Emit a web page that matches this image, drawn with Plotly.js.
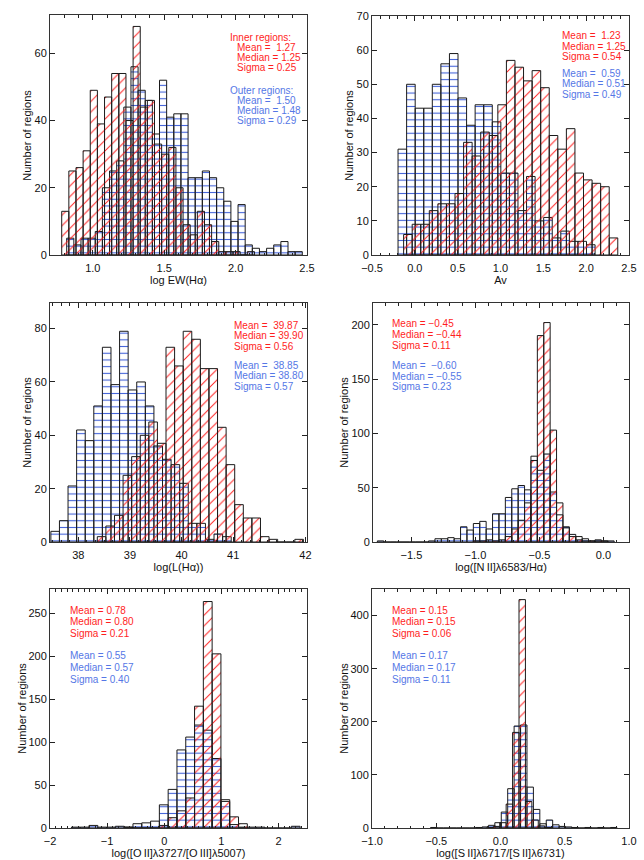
<!DOCTYPE html>
<html>
<head>
<meta charset="utf-8">
<script src="https://cdn.plot.ly/plotly-3.0.1.min.js"></script>
<style>
  html, body { margin: 0; padding: 0; background: #fff; }
  #chart { width: 644px; height: 860px; }
</style>
</head>
<body>
<div id="chart"></div>
<script>
// Histogram counts.
// inner = red hatched bars, outer = blue lined bars.
// Each series: centre of its first bin and its bin width.

// log EW(Ha)
const ewInnerX0 = 0.807, ewInnerDx = 0.05;
const ewInner = [13, 25, 26, 31, 49, 39, 47, 54, 54, 40, 68, 44, 46, 33, 30, 32, 20, 9, 6, 13, 9, 4, 1, 1, 1, 0, 1];
const ewOuterX0 = 0.842, ewOuterDx = 0.05;
const ewOuter = [5, 3, 5, 5, 7, 20, 25, 28, 44, 56, 49, 46, 36, 52, 41, 42, 42, 23, 23, 25, 23, 20, 16, 10, 15, 3, 2, 1, 2, 3, 4, 1, 1];

// Av
const avInnerX0 = -0.081, avInnerDx = 0.1;
const avInner = [6, 9, 9, 13, 15, 15, 18, 33, 29, 36, 35, 44, 57, 55, 51, 54, 49, 35, 31, 37, 24, 22, 21, 20, 5];
const avOuterX0 = -0.146, avOuterDx = 0.1;
const avOuter = [31, 50, 43, 43, 50, 56, 59, 46, 38, 44, 44, 39, 24, 24, 13, 23, 10, 11, 5, 7, 4, 4, 3];

// log L(Ha)
const lhaInnerX0 = 38.45, lhaInnerDx = 0.1664;
const lhaInner = [2, 6, 10, 25, 32, 40, 45, 37, 73, 66, 79, 76, 65, 65, 43, 29, 14, 9, 9, 2, 1, 0, 0, 1];
const lhaOuterX0 = 37.55, lhaOuterDx = 0.1664;
const lhaOuter = [4, 8, 21, 42, 38, 51, 73, 59, 79, 57, 60, 51, 36, 31, 29, 22, 7, 7, 1, 3, 2];

// log [NII]/Ha
const n2InnerX0 = -0.991, n2InnerDx = 0.05;
const n2Inner = [1, 1, 2, 1, 2, 5, 12, 20, 36, 75, 190, 202, 103, 36, 13, 5, 2, 1, 1, 1, 1];
const n2OuterX0 = -1.741, n2OuterDx = 0.05;
const n2Outer = [1, 0, 0, 0, 0, 0, 0, 0, 1, 3, 3, 4, 3, 14, 11, 17, 19, 12, 26, 26, 41, 49, 52, 48, 79, 66, 81, 46, 25, 14, 7, 5, 3, 1, 2, 1, 1];

// log [OII]/[OIII]
const o2InnerX0 = -0.624, o2InnerDx = 0.154;
const o2Inner = [1, 0, 0, 0, 3, 12, 20, 35, 142, 264, 203, 33, 13, 5];
const o2OuterX0 = -1.548, o2OuterDx = 0.154;
const o2Outer = [1, 1, 3, 1, 1, 2, 1, 5, 6, 8, 27, 45, 91, 106, 120, 114, 81, 31, 4, 1, 1, 1, 0, 0, 0, 2];

// log [SII]6717/6731
const s2InnerX0 = -0.081, s2InnerDx = 0.05;
const s2Inner = [1, 3, 10, 45, 180, 430, 50, 15, 4, 1];
const s2OuterX0 = -0.519, s2OuterDx = 0.05;
const s2Outer = [1, 0, 0, 0, 0, 0, 0, 1, 2, 5, 10, 30, 74, 192, 194, 77, 35, 8, 15, 6, 3, 2, 1, 0, 1, 0, 1, 0, 1];

// tick labels of the L(Ha) axis (the last label sits at the right frame)
const lhaTickVals = [38, 39, 40, 41, 42.4];
const lhaTickText = ['38', '39', '40', '41', '42'];

// Summary statistics printed in each panel
const ewInnerText = ['Mean =\u00a0 1.27', 'Median = 1.25', 'Sigma = 0.25'];
const ewOuterText = ['Mean =\u00a0 1.50', 'Median = 1.48', 'Sigma = 0.29'];
const avInnerText = ['Mean =\u00a0 1.23', 'Median = 1.25', 'Sigma = 0.54'];
const avOuterText = ['Mean =\u00a0 0.59', 'Median = 0.51', 'Sigma = 0.49'];
const lhaInnerText = ['Mean =\u00a0 39.87', 'Median = 39.90', 'Sigma = 0.56'];
const lhaOuterText = ['Mean =\u00a0 38.85', 'Median = 38.80', 'Sigma = 0.57'];
const n2InnerText = ['Mean = \u22120.45', 'Median = \u22120.44', 'Sigma = 0.11'];
const n2OuterText = ['Mean =\u00a0 \u22120.60', 'Median = \u22120.55', 'Sigma = 0.23'];
const o2InnerText = ['Mean = 0.78', 'Median = 0.80', 'Sigma = 0.21'];
const o2OuterText = ['Mean = 0.55', 'Median = 0.57', 'Sigma = 0.40'];
const s2InnerText = ['Mean = 0.15', 'Median = 0.15', 'Sigma = 0.06'];
const s2OuterText = ['Mean = 0.17', 'Median = 0.17', 'Sigma = 0.11'];

const W = 644, H = 860;
const RED = '#ff1e1e';
const BLUE = '#3f5fd8';
const TEXT_BLUE = '#5577e6';
const FONT = 'Liberation Sans, Arial, Helvetica, sans-serif';

function histTrace(n, x0, dx, counts, inner) {
  return {
    type: 'bar',
    xaxis: 'x' + (n === 1 ? '' : n),
    yaxis: 'y' + (n === 1 ? '' : n),
    x0: x0,
    dx: dx,
    y: counts,
    width: dx,
    marker: {
      color: 'rgba(0,0,0,0)',
      line: {color: '#1a1a1a', width: 1},
      pattern: inner
        ? {shape: '/', fgcolor: RED, bgcolor: 'rgba(0,0,0,0)', size: 7.5, solidity: 0.13}
        : {shape: '-', fgcolor: BLUE, bgcolor: 'rgba(0,0,0,0)', size: 6.7, solidity: 0.16}
    },
    hoverinfo: 'skip',
    showlegend: false
  };
}

// panel boxes in pixels: left, right, top, bottom
const BOXES = [
  [50, 307, 15, 255],
  [372, 629, 16, 255],
  [50, 307, 303, 542],
  [373, 629, 303, 542],
  [50, 307, 589, 828],
  [372, 629, 589, 828]
];

const tickFont = {family: FONT, size: 11, color: '#111'};

function xAxis(n, range, dtick, fmt, minor, title) {
  const b = BOXES[n - 1];
  return {
    domain: [b[0] / W, b[1] / W],
    anchor: 'y' + (n === 1 ? '' : n),
    range: range,
    dtick: dtick,
    tick0: 0,
    tickformat: fmt,
    ticks: 'inside', ticklen: 5, tickwidth: 1, tickcolor: '#222',
    ticklabelstandoff: 3,
    minor: {dtick: minor, ticks: 'inside', ticklen: 2.5, tickcolor: '#222', showgrid: false},
    showline: true, linecolor: '#333', linewidth: 1, mirror: 'ticks',
    showgrid: false, zeroline: false,
    tickfont: tickFont,
    title: {text: title, font: {family: FONT, size: 11, color: '#111'}, standoff: 1},
    automargin: false
  };
}

function yAxis(n, range, dtick) {
  const b = BOXES[n - 1];
  return {
    domain: [1 - b[3] / H, 1 - b[2] / H],
    anchor: 'x' + (n === 1 ? '' : n),
    range: range,
    dtick: dtick,
    tick0: 0,
    ticks: 'inside', ticklen: 5, tickwidth: 1, tickcolor: '#222',
    showline: true, linecolor: '#333', linewidth: 1, mirror: 'ticks',
    showgrid: false, zeroline: false,
    tickfont: tickFont,
    automargin: false
  };
}

function statNotes(x, yTop, lines, color, step) {
  return lines.map((t, i) => ({
    xref: 'paper', yref: 'paper',
    x: x / W, y: 1 - (yTop + i * step) / H,
    xanchor: 'left', yanchor: 'middle',
    text: t, showarrow: false, borderpad: 0,
    font: {family: FONT, size: 10, color: color}
  }));
}

// "Number of regions" titles: [centre x, centre y] in pixels
const yTitlePos = [[26.7, 135], [348.7, 135], [26.7, 422], [343.7, 422], [21.7, 708], [343.7, 708]];
const yTitles = yTitlePos.map(p => ({
  xref: 'paper', yref: 'paper',
  x: p[0] / W, y: 1 - p[1] / H,
  xanchor: 'center', yanchor: 'middle',
  text: 'Number of regions', textangle: -90, showarrow: false,
  font: {family: FONT, size: 11, color: '#111'}
}));

const data = [
  histTrace(1, ewOuterX0, ewOuterDx, ewOuter, false),
  histTrace(1, ewInnerX0, ewInnerDx, ewInner, true),
  histTrace(2, avOuterX0, avOuterDx, avOuter, false),
  histTrace(2, avInnerX0, avInnerDx, avInner, true),
  histTrace(3, lhaOuterX0, lhaOuterDx, lhaOuter, false),
  histTrace(3, lhaInnerX0, lhaInnerDx, lhaInner, true),
  histTrace(4, n2OuterX0, n2OuterDx, n2Outer, false),
  histTrace(4, n2InnerX0, n2InnerDx, n2Inner, true),
  histTrace(5, o2OuterX0, o2OuterDx, o2Outer, false),
  histTrace(5, o2InnerX0, o2InnerDx, o2Inner, true),
  histTrace(6, s2OuterX0, s2OuterDx, s2Outer, false),
  histTrace(6, s2InnerX0, s2InnerDx, s2Inner, true)
];

const annotations = [].concat(
  statNotes(229, 37.7, ['Inner regions:'], RED, 10),
  statNotes(236, 47.7, ewInnerText, RED, 10),
  statNotes(229, 90.7, ['Outer regions:'], TEXT_BLUE, 10),
  statNotes(236, 100.7, ewOuterText, TEXT_BLUE, 10),
  statNotes(561, 36, avInnerText, RED, 10.5),
  statNotes(561, 73.3, avOuterText, TEXT_BLUE, 10.5),
  statNotes(232.7, 325, lhaInnerText, RED, 10.7),
  statNotes(232.7, 365, lhaOuterText, TEXT_BLUE, 10.7),
  statNotes(391.3, 323.3, n2InnerText, RED, 11.3),
  statNotes(391.3, 365, n2OuterText, TEXT_BLUE, 11),
  statNotes(69.3, 610, o2InnerText, RED, 11.9),
  statNotes(69.3, 655.7, o2OuterText, TEXT_BLUE, 12),
  statNotes(391.3, 610, s2InnerText, RED, 11.9),
  statNotes(391.3, 655.7, s2OuterText, TEXT_BLUE, 12),
  yTitles
);

const xAxis3 = xAxis(3, [37.45, 42.43], 1, 'd', 1 / 6, 'log(L(H\u03b1))');
xAxis3.tickmode = 'array';
xAxis3.tickvals = lhaTickVals;
xAxis3.ticktext = lhaTickText;

const layout = {
  width: W, height: H,
  margin: {l: 0, r: 0, t: 0, b: 0},
  paper_bgcolor: '#fff', plot_bgcolor: '#fff',
  barmode: 'overlay', bargap: 0,
  font: {family: FONT, color: '#111'},
  showlegend: false,
  xaxis: xAxis(1, [0.7, 2.5], 0.5, '.1f', 0.1, 'log EW(H\u03b1)'),
  yaxis: yAxis(1, [0, 71.4], 20),
  xaxis2: xAxis(2, [-0.5, 2.5], 0.5, '.1f', 0.1, 'Av'),
  yaxis2: yAxis(2, [0, 70], 10),
  xaxis3: xAxis3,
  yaxis3: yAxis(3, [0, 89.6], 20),
  xaxis4: xAxis(4, [-1.8, 0.2], 0.5, '.1f', 0.1, 'log([N\u2009II]\u03bb6583/H\u03b1)'),
  yaxis4: yAxis(4, [0, 220], 50),
  xaxis5: xAxis(5, [-2, 2.5], 1, 'd', 0.1, 'log([O\u2009II]\u03bb3727/[O\u2009III]\u03bb5007)'),
  yaxis5: yAxis(5, [0, 278.6], 50),
  xaxis6: xAxis(6, [-1, 1], 0.5, '.1f', 0.1, 'log([S\u2009II]\u03bb6717/[S\u2009II]\u03bb6731)'),
  yaxis6: yAxis(6, [0, 450], 100),
  annotations: annotations
};

Plotly.newPlot('chart', data, layout, {staticPlot: true, displayModeBar: false});
</script>
</body>
</html>
